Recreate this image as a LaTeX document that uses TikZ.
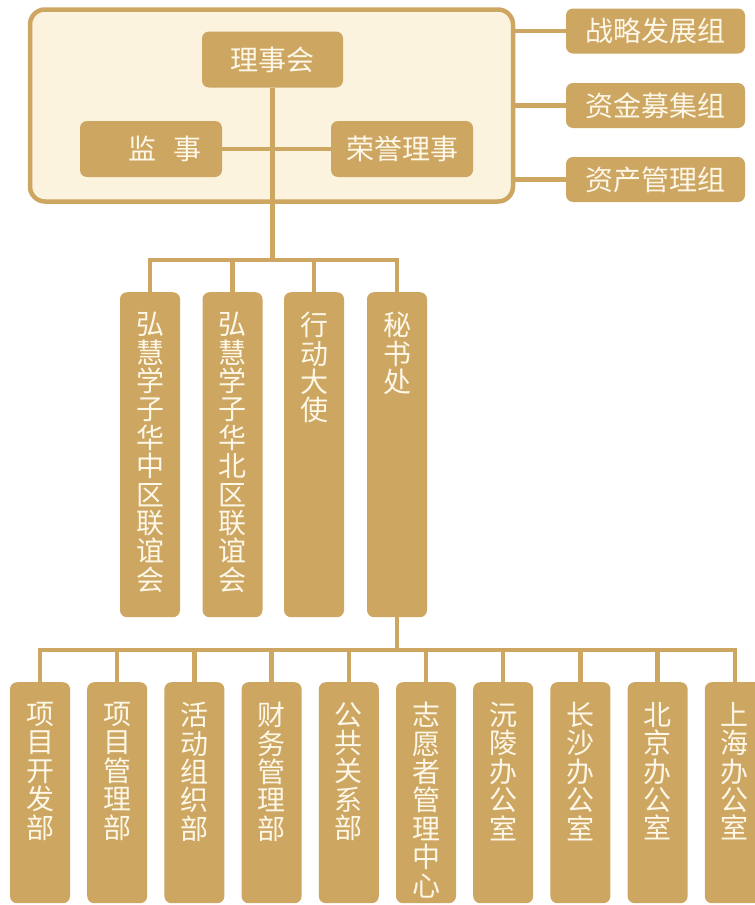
\documentclass[tikz,border=0pt]{standalone}
\usepackage{fontspec}
\newfontfamily\cjk{Noto Sans CJK SC}
\usetikzlibrary{positioning}
\definecolor{gold}{RGB}{205,166,98}
\definecolor{cream}{RGB}{251,243,222}
\definecolor{paper}{RGB}{253,247,232}

% one character per line, text starts near the top of the box
\def\stackchars#1{\ifx#1\relax\else#1\par\expandafter\stackchars\fi}
\newcommand{\vlabel}[2]{\parbox[t][#1][t]{60pt}{\centering\vspace*{20pt}\edef\tmpl{#2}\expandafter\stackchars\tmpl\relax}}

\begin{document}
\begin{tikzpicture}[x=1pt, y=-1pt,
        unit/.style={fill=gold, rounded corners=7pt, text=paper, inner sep=0pt,
            font=\cjk\fontsize{28pt}{28.4pt}\selectfont},
        hbox/.style={unit, minimum width=#1, minimum height=56pt},
        vbox/.style={unit, anchor=north, minimum width=60pt},
        link/.style={draw=gold, line width=4.5pt}]
    \useasboundingbox (0,0) rectangle (755,905);

    % board of directors
    \node[draw=gold, line width=4.5pt, fill=cream, rounded corners=15pt,
        minimum width=483pt, minimum height=192pt] (board) at (271.5,105.5) {};
    \node[hbox=141pt] (lsh) at (272.5,59.5) {理事会};
    \node[hbox=142pt] (js) at (151,149) {\hspace*{1em}监\hspace{0.6em}事};
    \node[hbox=142pt] (ry) at (402,149) {荣誉理事};
    \draw[link] (js.east) -- (ry.west);

    % working groups
    \node[hbox=179pt, minimum height=45pt] (g1) at (655.5,31) {战略发展组};
    \node[hbox=179pt, minimum height=45pt] (g2) at (655.5,105.5) {资金募集组};
    \node[hbox=179pt, minimum height=45pt] (g3) at (655.5,179.5) {资产管理组};
    \foreach \i in {1,2,3}
        \draw[link] (g\i.west) -- (g\i.west -| board.east);

    % second level
    \foreach \x/\unitname [count=\i] in {150/弘慧学子华中区联谊会, 232.5/弘慧学子华北区联谊会, 314/行动大使, 397/秘书处}
        \node[vbox] (m\i) at (\x,292) {\vlabel{325pt}{\unitname}};
    \coordinate (bus1) at (272.5,260);
    \draw[link] (lsh.south) -- (bus1);
    \draw[link] (m1.north) |- (bus1) -| (m4.north);
    \foreach \i in {2,3}
        \draw[link] (m\i.north) -- (m\i.north |- bus1);

    % departments under the secretariat
    \foreach \dept [count=\i] in {项目开发部, 项目管理部, 活动组织部, 财务管理部, 公共关系部,
            志愿者管理中心, 沅陵办公室, 长沙办公室, 北京办公室, 上海办公室}
        \node[vbox] (b\i) at ({40+77.2*(\i-1)},682) {\vlabel{221pt}{\dept}};
    \coordinate (bus2) at (397,650);
    \draw[link] (m4.south) -- (bus2);
    \draw[link] (b1.north) |- (bus2) -| (b10.north);
    \foreach \i in {2,...,9}
        \draw[link] (b\i.north) -- (b\i.north |- bus2);
\end{tikzpicture}
\end{document}
